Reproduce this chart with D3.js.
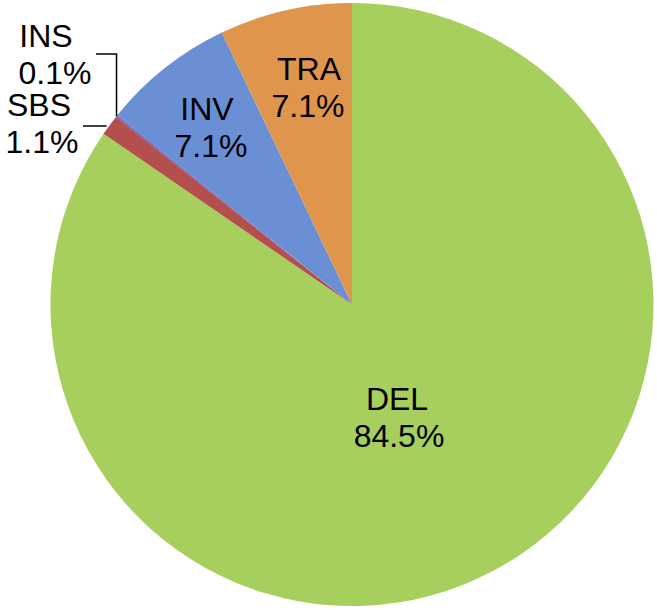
<!DOCTYPE html>
<html>
<head>
<meta charset="utf-8">
<script src="https://cdn.jsdelivr.net/npm/d3@7"></script>
<style>
  body { margin: 0; background: #fff; }
  text { font-family: "Liberation Sans", Arial, sans-serif; fill: #000; }
</style>
</head>
<body>
<div id="body"></div>
<script>
// chart data, clockwise from 12 o'clock
var categories = ['DEL', 'SBS', 'INS', 'INV', 'TRA'];
var values = [84.5, 1.1, 0.1, 7.1, 7.1];
var colors = ['#a6cf5d', '#b3504d', '#7a5ea6', '#6b8fd4', '#e0954d'];

var width = 657, height = 610;
var cx = 352, cy = 304.5, radius = 301.5;

var svg = d3.select('#body')
    .append('svg')
    .attr('width', width)
    .attr('height', height);

var g = svg.append('g')
    .attr('transform', 'translate(' + cx + ',' + cy + ')');

var pie = d3.pie().sort(null).value(function (d) { return d; });
var arcs = pie(values);
var arc = d3.arc().innerRadius(0).outerRadius(radius);

g.selectAll('path.slice')
    .data(arcs)
  .enter().append('path')
    .attr('class', 'slice')
    .attr('d', arc)
    .attr('fill', function (d, i) { return colors[i]; });

// point on the rim at the middle of a slice
function rim (d, r) {
  var a = (d.startAngle + d.endAngle) / 2;
  return [Math.sin(a) * r, -Math.cos(a) * r];
}

var fontSize = 32;

// label positions in page pixels: [name x, name baseline, value x]
var labelPos = {
  DEL: [397, 410, 399],
  INV: [207, 120, 211],
  TRA: [309, 80, 308],
  INS: [46, 47, 55],
  SBS: [39, 116, 42]
};

categories.forEach(function (name, i) {
  var p = labelPos[name];
  var t = svg.append('text')
      .attr('text-anchor', 'middle')
      .attr('font-size', fontSize + 'px');
  t.append('tspan').attr('x', p[0]).attr('y', p[1]).text(name);
  t.append('tspan').attr('x', p[2]).attr('y', p[1] + 37).text(values[i].toFixed(1) + '%');
});

// small slices get leader lines
var line = d3.line();

// INS: bracket up and to the left
var insPt = rim(arcs[2], radius);
g.append('path')
    .attr('d', line([[insPt[0], insPt[1]], [insPt[0], 54 - cy], [96 - cx, 54 - cy]]))
    .attr('fill', 'none')
    .attr('stroke', '#000')
    .attr('stroke-width', 1.5);

// SBS: short horizontal line
var sbsPt = rim(arcs[1], radius);
g.append('path')
    .attr('d', line([[sbsPt[0] - 3, 126 - cy], [83 - cx, 126 - cy]]))
    .attr('fill', 'none')
    .attr('stroke', '#000')
    .attr('stroke-width', 1.5);
</script>
</body>
</html>
